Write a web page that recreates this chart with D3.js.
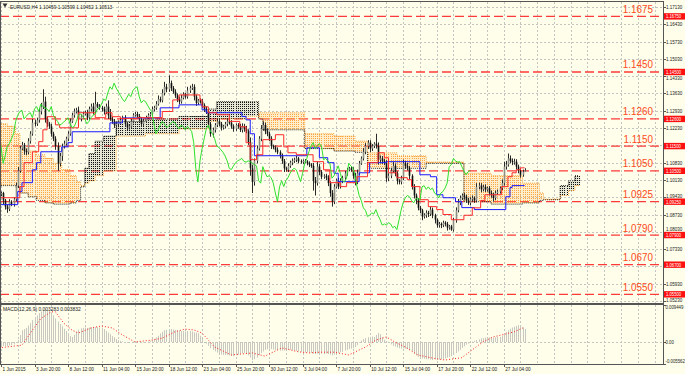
<!DOCTYPE html>
<html><head><meta charset="utf-8">
<script src="https://cdn.jsdelivr.net/npm/d3@7"></script>
<style>html,body{margin:0;padding:0;background:#FEFEEA;}svg{display:block}</style>
</head><body>
<svg id="c" width="685" height="374"></svg>
<script>
// ---------------- DATA ----------------
const symbolTitle = "EURUSD,H4  1.10459 1.10599 1.10452 1.10513";
const macdTitle = "MACD(12,26,9) 0.003283 0.003832";
const firstOpen = 1.0950;
const closes = [
1.0955,1.0960,1.0930,1.0905,1.0895,1.0925,
1.0915,1.0935,1.0990,1.1050,1.1140,1.1155,
1.1130,1.1125,1.1170,1.1200,1.1245,1.1240,
1.1255,1.1290,1.1310,1.1330,1.1260,1.1240,
1.1230,1.1200,1.1180,1.1150,1.1080,1.1110,
1.1150,1.1160,1.1180,1.1200,1.1250,1.1275,
1.1290,1.1295,1.1260,1.1270,1.1280,1.1285,
1.1265,1.1300,1.1310,1.1290,1.1320,1.1310,
1.1305,1.1300,1.1290,1.1310,1.1275,1.1260,
1.1250,1.1235,1.1240,1.1248,1.1255,1.1265,
1.1240,1.1225,1.1230,1.1250,1.1275,1.1280,
1.1270,1.1260,1.1240,1.1250,1.1265,1.1275,
1.1280,1.1300,1.1305,1.1320,1.1340,1.1335,
1.1365,1.1390,1.1380,1.1405,1.1385,1.1370,
1.1355,1.1340,1.1330,1.1345,1.1360,1.1350,
1.1375,1.1385,1.1390,1.1350,1.1325,1.1335,
1.1330,1.1315,1.1300,1.1290,1.1240,1.1200,
1.1215,1.1235,1.1250,1.1240,1.1225,1.1230,
1.1240,1.1250,1.1245,1.1230,1.1220,1.1235,
1.1230,1.1215,1.1230,1.1220,1.1210,1.1165,
1.1060,1.1005,1.1090,1.1140,1.1180,1.1220,
1.1235,1.1210,1.1200,1.1180,1.1150,1.1145,
1.1135,1.1125,1.1110,1.1090,1.1060,1.1055,
1.1070,1.1083,1.1090,1.1095,1.1100,1.1088,
1.1085,1.1090,1.1087,1.1080,1.1075,1.1070,
1.1010,1.1000,1.1067,1.1045,1.1026,1.1030,
1.1022,1.1000,1.0960,1.0925,1.0986,1.1010,
1.0986,1.1010,1.1022,1.1040,1.1054,1.1060,
1.1054,1.1030,1.1006,1.1040,1.1080,1.1100,
1.1127,1.1150,1.1164,1.1140,1.1150,1.1160,
1.1150,1.1095,1.1100,1.1090,1.1083,1.1020,
1.1030,1.1050,1.1070,1.1040,1.1010,1.1005,
1.1020,1.1080,1.1070,1.1062,1.1030,1.0986,
1.0950,1.0930,1.0900,1.0890,1.0865,1.0870,
1.0880,1.0875,1.0893,1.0870,1.0852,1.0830,
1.0835,1.0830,1.0840,1.0835,1.0820,1.0825,
1.0812,1.0850,1.0890,1.0921,1.0940,1.0950,
1.0945,1.0930,1.0920,1.0935,1.0940,1.0930,
1.0985,1.0990,1.0975,1.0985,1.0974,1.0980,
1.0960,1.0953,1.0940,1.0960,1.0966,1.0980,
1.1000,1.1067,1.1075,1.1100,1.1090,1.1085,
1.1087,1.1067,1.1050,1.1034,1.10459,1.10513
];
// wick sizes in pips above max(open,close) and below min(open,close)
const wickUp = [
8,6,5,6,7,10, 6,8,12,15,10,12, 8,10,12,10,15,12, 10,14,15,50,20,10, 8,10,8,10,15,12,
10,12,8,10,12,10, 12,10,15,8,10,8, 12,10,12,15,50,8, 10,8,10,12,25,25, 8,10,8,6,10,8,
10,8,8,10,8,8, 8,10,8,10,8,8, 8,10,8,12,15,10, 15,20,12,31,10,8, 10,8,10,12,8,6,
15,10,12,10,8,6, 8,10,8,10,10,8, 10,8,12,10,8,6, 8,10,8,10,8,6, 8,10,12,10,12,8,
20,15,10,12,10,15, 15,10,12,8,10,6, 8,10,8,10,8,6, 10,8,10,8,10,6, 8,6,8,6,8,6,
12,15,20,10,8,6, 8,10,8,12,10,8, 12,10,8,10,8,6, 8,10,12,15,10,8, 15,12,10,10,8,6,
40,15,12,10,8,10, 10,12,15,10,8,6, 10,15,10,12,8,6, 10,8,10,8,6,8, 10,8,12,8,6,5,
8,6,8,6,8,6, 6,10,12,15,10,8, 10,8,10,8,10,6, 15,12,10,8,10,6, 8,10,8,10,8,6,
15,20,15,20,12,10, 12,10,8,10,9,9
];
const wickDn = [
10,8,15,12,15,8, 8,10,8,10,8,6, 15,12,8,10,8,10, 8,10,12,10,15,12, 10,12,10,15,30,12,
20,10,8,10,8,6, 10,8,12,10,8,6, 10,8,10,12,10,6, 8,10,12,10,15,8, 10,12,8,10,6,8,
12,10,8,6,8,6, 8,10,12,8,6,6, 6,8,10,8,6,8, 8,10,12,10,12,8, 10,12,10,8,6,8,
8,10,8,15,12,8, 8,10,12,10,15,12, 15,10,8,10,12,8, 8,10,8,10,12,8, 10,8,10,12,8,10,
30,45,15,10,8,10, 8,12,10,10,12,8, 10,8,10,12,15,8, 10,8,10,8,10,8, 6,8,6,8,10,8,
40,50,10,12,10,8, 10,12,15,20,10,8, 10,8,10,8,10,6, 8,12,15,10,8,6, 8,10,12,15,10,8,
10,20,15,12,10,15, 12,10,8,12,15,10, 10,8,12,10,15,12, 12,15,10,12,15,8, 10,12,8,12,15,10,
10,12,8,10,12,8, 5,8,10,8,10,8, 12,10,8,10,8,10, 8,10,12,8,10,8, 10,12,15,8,6,8,
8,10,12,8,10,12, 10,12,10,12,8,1
];
// Ichimoku lines as [bar, price] step points
const tenkan = [[0,1.0941],[10,1.0986],[12,1.1083],[16,1.1127],[19,1.1168],[21,1.1216],[23,1.1269],[27,1.1236],[29,1.1224],[38,1.1285],[46,1.1265],[51,1.1285],[54,1.1269],[58,1.1262],[66,1.1265],[78,1.1290],[83,1.1337],[86,1.1357],[96,1.1337],[97,1.1309],[100,1.1285],[104,1.1277],[110,1.1250],[115,1.1228],[118,1.1164],[120,1.1095],[123,1.1115],[126,1.1176],[132,1.1196],[136,1.1147],[138,1.1123],[142,1.1115],[150,1.1087],[155,1.1054],[158,1.1002],[163,1.0986],[166,1.1002],[171,1.1026],[176,1.1083],[181,1.1123],[184,1.1103],[186,1.1042],[190,1.1022],[195,1.1014],[197,1.0986],[201,1.0933],[205,1.0905],[209,1.0893],[212,1.0873],[216,1.0852],[222,1.0870],[226,1.0900],[230,1.0930],[232,1.0953],[240,1.0986],[243,1.1026],[245,1.1042],[247,1.1054],[249,1.1062]];
const kijun = [[0,1.0913],[9,1.0966],[11,1.1002],[16,1.1054],[18,1.1083],[20,1.1127],[30,1.1147],[33,1.1164],[35,1.1208],[53,1.1244],[59,1.1264],[77,1.1305],[86,1.1317],[97,1.1297],[99,1.1285],[116,1.1270],[118,1.1256],[120,1.1200],[122,1.1111],[147,1.1143],[153,1.1103],[157,1.1083],[160,1.1040],[162,1.1006],[172,1.1042],[177,1.1083],[185,1.1087],[201,1.1034],[206,1.1026],[209,1.0953],[212,1.0941],[218,1.0925],[221,1.0901],[227,1.0893],[242,1.0945],[244,1.0982],[245,1.0990]];
// Kumo: [bar, senkouA, senkouB]
const kumo = [[0,1.1240,1.0990],[4,1.1230,1.0990],[8,1.1200,1.0985],[10,1.1140,1.0960],[14,1.1130,1.0945],[18,1.1115,1.0930],[22,1.1100,1.0920],[26,1.1080,1.0915],[30,1.1055,1.0915],[34,1.1030,1.0920],[37,1.1005,1.0930],[39,1.0990,1.0985],[41,1.1000,1.1060],[43,1.1010,1.1120],[46,1.1030,1.1170],[50,1.1050,1.1190],[56,1.1190,1.1250],[70,1.1200,1.1260],[86,1.1220,1.1270],[100,1.1250,1.1300],[104,1.1260,1.1330],[118,1.1270,1.1330],[124,1.1285,1.1260],[126,1.1285,1.1216],[146,1.1200,1.1140],[160,1.1190,1.1130],[170,1.1170,1.1125],[176,1.1123,1.1060],[190,1.1110,1.1060],[204,1.1085,1.1080],[222,1.1040,1.0925],[235,1.1030,1.0915],[250,1.1000,1.0920],[258,1.0960,1.0930],[260,1.0935,1.0933],[268,1.0950,1.0990],[272,1.0970,1.1010],[275,1.0990,1.1030]];
const kumoEnd = 277;
const chikouShift = 26;
// MACD main (histogram), units of 0.0001
const macdHist = [
-12,-11,-10,-10,-11,-9, -8,-6,-2,5,18,30, 33,36,42,48,56,62, 68,74,78,82,84,82, 80,76,68,60,52,46,
40,34,28,22,15,13, 18,26,32,35,36,37, 36,37,38,37,38,38, 37,36,33,28,24,20, 15,12,8,5,3,2,
0,-2,-2,0,1,2, 2,0,-1,-1,0,1, 3,5,8,12,16,22, 26,30,31,32,33,32, 31,30,29,28,28,27,
28,28,27,25,24,22, 16,8,0,-4,-10,-16, -20,-24,-27,-30,-32,-33, -33,-33,-34,-35,-36,-34, -32,-30,-29,-28,-30,-34,
-40,-46,-44,-40,-34,-28, -24,-20,-18,-17,-18,-19, -20,-21,-22,-22,-22,-21, -20,-20,-21,-22,-23,-24, -25,-26,-27,-26,-27,-28,
-30,-31,-30,-31,-30,-31, -30,-31,-32,-34,-32,-30, -28,-26,-25,-22,-20,-18, -17,-16,-13,-8,-2,4, 8,10,12,13,14,13,
18,23,20,12,6,2, -2,-6,-10,-12,-14,-16, -17,-16,-17,-18,-20,-24, -30,-34,-38,-40,-42,-43, -44,-44,-45,-46,-45,-46,
-45,-44,-43,-42,-40,-38, -36,-32,-28,-24,-20,-15, -11,-7,-4,-1,1,3, 5,7,9,10,11,12, 12,12,11,12,13,13,
16,21,26,30,34,37, 39,41,43,41,37,33
];
// MACD signal [bar, value in 0.0001]
const macdSignal = [[0,-15],[8,-10],[11,-8],[16,30],[20,60],[25,77],[27,77],[31,48],[35,30],[38,23],[44,36],[49,41],[54,36],[59,18],[65,0],[73,5],[78,10],[84,26],[89,33],[93,31],[97,23],[103,-13],[111,-33],[121,-28],[127,-36],[135,-15],[143,-25],[148,-28],[153,-26],[160,-26],[167,-33],[175,-13],[180,5],[185,13],[189,0],[194,-13],[200,-33],[207,-41],[213,-46],[221,-40],[226,-20],[231,0],[236,13],[240,18],[246,26],[251,38]];
const levels = [1.1675,1.1450,1.1260,1.1150,1.1050,1.0925,1.0790,1.0670,1.0550];
const levelLabels = ["1.1675","1.1450","1.1260","1.1150","1.1050","1.0925","1.0790","1.0670","1.0550"];
const levelBoxLabels = ["1.16750","1.14500","1.12600","1.11500","1.10500","1.09250","1.07900","1.06700","1.05500"];
const priceTicks = [1.1713,1.1643,1.1573,1.1503,1.1433,1.1363,1.1293,1.1223,1.1153,1.1083,1.1013,1.0943,1.0873,1.0803,1.0733,1.0663,1.0593,1.0523];
const priceTickLabels = ["1.17130","1.16430","1.15730","1.15030","1.14330","1.13630","1.12930","1.12230","1.11530","1.10830","1.10130","1.09430","1.08730","1.08030","1.07330","1.06630","1.05930","1.05230"];
const macdTicks = [0.009449,0,-0.005562];
const macdTickLabels = ["0.009449","0.00","-0.005562"];
const timeBars = [0,17,33,49,65,81,97,113,129,145,161,177,193,209,225,241];
const timeLabels = ["1 Jun 2015","3 Jun 20:00","8 Jun 12:00","11 Jun 04:00","15 Jun 20:00","18 Jun 12:00","23 Jun 04:00","25 Jun 20:00","30 Jun 12:00","3 Jul 04:00","7 Jul 20:00","10 Jul 12:00","15 Jul 04:00","17 Jul 20:00","22 Jul 12:00","27 Jul 04:00"];

// ---------------- LAYOUT ----------------
const BG = "#FEFEEA";
const plotR = 663, mainTop = 2, mainBot = 303, macdTop = 305, macdBot = 364;
const FONT = "Liberation Sans, Arial, sans-serif";
const x = d3.scaleLinear().domain([17,313]).range([34.5,654.5]);
const y = d3.scaleLinear().domain([1.0523,1.1713]).range([301,7]);
const ym = d3.scaleLinear().domain([-0.005562,0.009449]).range([363.8,305]);
const px = v => Math.round(v) + 0.5;
const barW = x(1) - x(0);

const svg = d3.select("#c");
svg.append("rect").attr("width",685).attr("height",374).attr("fill",BG);
const defs = svg.append("defs");
defs.append("clipPath").attr("id","cm").append("rect").attr("x",0).attr("y",mainTop).attr("width",plotR).attr("height",mainBot-mainTop);
defs.append("clipPath").attr("id","cd").append("rect").attr("x",0).attr("y",macdTop).attr("width",plotR).attr("height",macdBot-macdTop);

// text drawn with a horizontal squeeze (the reference glyphs are narrow)
function txt(g, xx, yy, s, size, fill, ratio, anchor){
  const t = g.append("text").attr("transform",`translate(${xx},${yy}) scale(${ratio},1)`).text(s)
    .attr("font-size",size).attr("fill",fill).attr("font-family",FONT);
  if(anchor) t.attr("text-anchor",anchor);
  return t;
}

// grid
const grid = svg.append("g").attr("stroke","#c4c4c0").attr("stroke-dasharray","2,2").attr("stroke-width",1);
d3.range(1,330,8).filter(b=>x(b)>0 && x(b)<plotR-1).forEach(b=>{
  grid.append("line").attr("x1",px(x(b))).attr("x2",px(x(b))).attr("y1",mainTop).attr("y2",mainBot);
  grid.append("line").attr("x1",px(x(b))).attr("x2",px(x(b))).attr("y1",macdTop).attr("y2",macdBot);
});
priceTicks.forEach(v=>{
  if(y(v)>mainTop+1 && y(v)<mainBot-1)
    grid.append("line").attr("x1",0).attr("x2",plotR).attr("y1",px(y(v))).attr("y2",px(y(v)));
});
grid.append("line").attr("x1",0).attr("x2",plotR).attr("y1",px(ym(0))).attr("y2",px(ym(0)));

// level lines
const gl = svg.append("g").attr("clip-path","url(#cm)");
levels.forEach((v,i)=>{
  gl.append("line").attr("x1",0).attr("x2",plotR).attr("y1",y(v)).attr("y2",y(v))
    .attr("stroke","#ff3a3a").attr("stroke-width",1.3).attr("stroke-dasharray","9,4");
});

// kumo: light tint + dotted histogram columns
const stepVal = (arr, i, k) => { let v = arr[0][k]; for(const p of arr){ if(p[0]<=i) v = p[k]; } return v; };
const gk = svg.append("g").attr("clip-path","url(#cm)");
const kumoBars = d3.range(0, kumoEnd+1);
kumoBars.forEach(i=>{
  const a = stepVal(kumo,i,1), b = stepVal(kumo,i,2);
  const up = a >= b;
  const y1 = Math.round(Math.min(y(a),y(b))), y2 = Math.round(Math.max(y(a),y(b)));
  gk.append("rect").attr("x",x(i)-barW/2).attr("width",barW).attr("y",y1).attr("height",Math.max(0,y2-y1))
    .attr("fill", up ? "#ffb860" : "#555").attr("fill-opacity", up ? 0.22 : 0.14);
  gk.append("line").attr("x1",px(x(i))).attr("x2",px(x(i))).attr("y1",y1).attr("y2",y2)
    .attr("stroke", up ? "#ffa640" : "#111").attr("stroke-width",1)
    .attr("stroke-dasharray","1,1").attr("stroke-dashoffset", y1 % 2);
});
const stepLine = d3.line().x(d=>x(d[0])).y(d=>y(d[1])).curve(d3.curveStepAfter);
const spanA = kumoBars.map(i=>[i, stepVal(kumo,i,1)]);
const spanB = kumoBars.map(i=>[i, stepVal(kumo,i,2)]);
gk.append("path").attr("d",stepLine(spanA)).attr("fill","none").attr("stroke","#f59a30").attr("stroke-width",1).attr("stroke-dasharray","1,1");
gk.append("path").attr("d",stepLine(spanB)).attr("fill","none").attr("stroke","#222").attr("stroke-width",1).attr("stroke-dasharray","1,1");

// candles
const gc = svg.append("g").attr("clip-path","url(#cm)");
closes.forEach((c,i)=>{
  const o = i===0 ? firstOpen : closes[i-1];
  const hi = Math.max(o,c) + wickUp[i]*0.0001;
  const lo = Math.min(o,c) - wickDn[i]*0.0001;
  const xx = px(x(i));
  gc.append("line").attr("x1",xx).attr("x2",xx).attr("y1",y(hi)).attr("y2",y(lo)).attr("stroke","#2a2a2a").attr("stroke-width",1);
  const top = y(Math.max(o,c)), bot = y(Math.min(o,c));
  gc.append("rect").attr("x",xx-0.8).attr("width",1.6).attr("y",top).attr("height",Math.max(0.8,bot-top))
    .attr("fill", c>=o ? "#8e8e86" : "#111");
});

// ichimoku lines
const lastBar = closes.length-1;
const withEnd = arr => arr.concat([[lastBar, arr[arr.length-1][1]]]);
gc.append("path").attr("d",stepLine(withEnd(kijun))).attr("fill","none").attr("stroke","#1a1aff").attr("stroke-width",1);
gc.append("path").attr("d",stepLine(withEnd(tenkan))).attr("fill","none").attr("stroke","#ff2a2a").attr("stroke-width",1);
const chikou = closes.map((c,i)=>[i-chikouShift,c]).filter(d=>d[0]>=-1);
gc.append("path").attr("d",d3.line().x(d=>x(d[0])).y(d=>y(d[1]))(chikou)).attr("fill","none").attr("stroke","#2ee02e").attr("stroke-width",1);

// level texts
levels.forEach((v,i)=>{
  txt(svg, 653, y(v)-3.5, levelLabels[i], 10.5, "#ff4a1a", 0.94, "end");
});

// MACD panel
const gm = svg.append("g").attr("clip-path","url(#cd)");
macdHist.forEach((v,i)=>{
  gm.append("line").attr("x1",px(x(i))).attr("x2",px(x(i))).attr("y1",ym(0)).attr("y2",ym(v*0.0001))
    .attr("stroke","#c8c8c0").attr("stroke-width",1);
});
gm.append("path").attr("d",d3.line().x(d=>x(d[0])).y(d=>ym(d[1]*0.0001))(macdSignal))
  .attr("fill","none").attr("stroke","#ff2020").attr("stroke-width",1).attr("stroke-dasharray","1,2");

// frames
const fr = svg.append("g").attr("stroke","#555").attr("fill","none");
fr.append("line").attr("x1",0).attr("x2",plotR).attr("y1",1.5).attr("y2",1.5);
fr.append("line").attr("x1",0.5).attr("x2",0.5).attr("y1",1).attr("y2",macdBot);
fr.append("line").attr("x1",plotR+0.5).attr("x2",plotR+0.5).attr("y1",1).attr("y2",macdBot+0.5);
fr.append("line").attr("x1",0).attr("x2",plotR).attr("y1",304).attr("y2",304).attr("stroke-width",2);
fr.append("line").attr("x1",0).attr("x2",plotR+1).attr("y1",macdBot+0.5).attr("y2",macdBot+0.5);

// right axis
const ax = svg.append("g");
const boxH = 6.4;
priceTicks.forEach((v,i)=>{
  ax.append("line").attr("x1",plotR).attr("x2",plotR+3).attr("y1",px(y(v))).attr("y2",px(y(v))).attr("stroke","#555");
  // label hidden when the level box covers it; otherwise nudged clear of the box
  let yy = y(v);
  let hidden = false;
  levels.forEach(L=>{
    const d = yy - y(L);
    if (Math.abs(d) < 2.5) hidden = true;
    else if (Math.abs(d) < boxH/2 + 4.3) yy = d > 0 ? y(L) + boxH/2 + 2.4 : y(L) - boxH/2 - 2.4;
  });
  if (!hidden) txt(ax, 666, yy+2, priceTickLabels[i], 5.8, "#222", 0.78);
});
levels.forEach((v,i)=>{
  ax.append("rect").attr("x",plotR+1).attr("y",y(v)-boxH/2).attr("width",21).attr("height",boxH).attr("fill","#ff1010");
  txt(ax, 666, y(v)+2, levelBoxLabels[i], 5.4, "#fff", 0.78);
});
macdTicks.forEach((v,i)=>{
  const yy = Math.min(Math.max(ym(v), 307), 361);
  ax.append("line").attr("x1",plotR).attr("x2",plotR+3).attr("y1",px(ym(v))).attr("y2",px(ym(v))).attr("stroke","#555");
  txt(ax, 665.5, yy+2, macdTickLabels[i], 5.8, "#222", 0.74);
});

// time axis
timeBars.forEach((b,i)=>{
  const xx = Math.max(1, x(b));
  ax.append("line").attr("x1",px(xx)).attr("x2",px(xx)).attr("y1",macdBot).attr("y2",macdBot+3).attr("stroke","#555");
  txt(ax, xx+1.5, 370.5, timeLabels[i], 6, "#222", 0.78);
});

// titles
svg.append("path").attr("d","M2.5,3.5 L7.5,3.5 L5,7.5 Z").attr("fill","#333");
txt(svg, 10, 8.5, symbolTitle, 6, "#222", 0.8);
txt(svg, 3, 311, macdTitle, 6, "#222", 0.82);
</script>
</body></html>
